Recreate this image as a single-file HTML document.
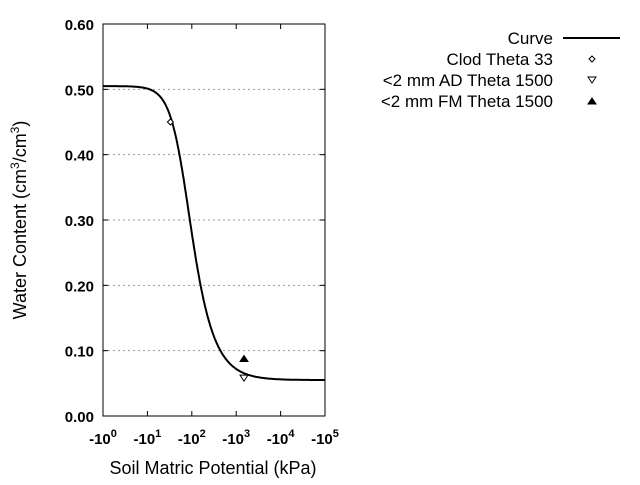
<!DOCTYPE html>
<html><head><meta charset="utf-8"><style>
body{margin:0;background:#fff}
svg{font-family:"Liberation Sans",sans-serif}
</style></head><body>
<svg width="640" height="480" viewBox="0 0 640 480">
<g id="grid"></g><g id="axes"></g><g id="marks"></g><g id="legend"></g>
<text x="213" y="474" font-size="18" text-anchor="middle">Soil Matric Potential (kPa)</text>
<text transform="translate(26,220) rotate(-90)" font-size="18" text-anchor="middle">Water Content (cm<tspan dy="-7" font-size="12">3</tspan><tspan dy="7">/cm</tspan><tspan dy="-7" font-size="12">3</tspan><tspan dy="7">)</tspan></text>
</svg>
<script>
const yTicks=[0,0.1,0.2,0.3,0.4,0.5,0.6];
const xDecades=[0,1,2,3,4,5];
const vgParams={thetaR:0.055,thetaS:0.505,alpha:0.01533,n:2.2};
const clodH=[33];const clodTheta=[0.45];
const adH=[1500];const adTheta=[0.058];
const fmH=[1500];const fmTheta=[0.088];
const legendLabels=["Curve","Clod Theta 33","<2 mm AD Theta 1500","<2 mm FM Theta 1500"];
const L=103,R=325,T=24,B=416;
const NS="http://www.w3.org/2000/svg";
const X=h=>L+(Math.log10(h)-0)/5*(R-L);
const Y=t=>B-t/0.6*(B-T);
function mk(p,tag,a,name,txt){const e=document.createElementNS(NS,tag);for(const k in a)e.setAttribute(k,a[k]);


if(txt!==undefined)e.textContent=txt;p.appendChild(e);return e;}
const grid=document.getElementById('grid'),axes=document.getElementById('axes'),marks=document.getElementById('marks'),leg=document.getElementById('legend');
yTicks.forEach(v=>{const y=Y(v);
if(v>0&&v<0.6)mk(grid,'line',{x1:L,x2:R,y1:y,y2:y,stroke:'#999','stroke-dasharray':'2,3','stroke-width':1},'y-gridline');
mk(axes,'line',{x1:L,x2:L+5,y1:y,y2:y,stroke:'#000'},'y-tick');
mk(axes,'line',{x1:R-5,x2:R,y1:y,y2:y,stroke:'#000'},'y-tick');
mk(axes,'text',{x:L-9,y:y+6,'font-size':15,'font-weight':'bold','text-anchor':'end'},'y-tick-label',v.toFixed(2));});
xDecades.forEach(d=>{const x=X(Math.pow(10,d));
mk(axes,'line',{x1:x,x2:x,y1:B,y2:B-5,stroke:'#000'},'x-tick');
mk(axes,'line',{x1:x,x2:x,y1:T,y2:T+5,stroke:'#000'},'x-tick');
const t=mk(axes,'text',{x:x,y:B+28,'font-size':15,'font-weight':'bold','text-anchor':'middle'},'x-tick-label','-10');
const s=document.createElementNS(NS,'tspan');s.setAttribute('dy','-7');s.setAttribute('font-size','11');s.textContent=d;t.appendChild(s);});
mk(axes,'rect',{x:L,y:T,width:R-L,height:B-T,fill:'none',stroke:'#000','stroke-width':1},'plot-frame');
const m=1-1/vgParams.n;let pts=[];
for(let i=0;i<=300;i++){const lh=i/300*5,h=Math.pow(10,lh);
const se=Math.pow(1+Math.pow(vgParams.alpha*h,vgParams.n),-m);
const th=vgParams.thetaR+(vgParams.thetaS-vgParams.thetaR)*se;pts.push(X(h).toFixed(1)+','+Y(th).toFixed(1));}
mk(marks,'polyline',{points:pts.join(' '),fill:'none',stroke:'#000','stroke-width':2},'retention-curve');
const diamond=(p,x,y,n)=>mk(p,'path',{d:`M${x} ${y-3}L${x+3} ${y}L${x} ${y+3}L${x-3} ${y}Z`,fill:'#fff',stroke:'#000','stroke-width':1},n);
const tdown=(p,x,y,n)=>mk(p,'path',{d:`M${x-4} ${y-3}L${x+4} ${y-3}L${x} ${y+3}Z`,fill:'#fff',stroke:'#000','stroke-width':1},n);
const tup=(p,x,y,n)=>mk(p,'path',{d:`M${x-4} ${y+3}L${x+4} ${y+3}L${x} ${y-3}Z`,fill:'#000',stroke:'#000','stroke-width':1},n);
clodH.forEach((h,i)=>diamond(marks,X(h),Y(clodTheta[i]),'clod-theta-33-point'));
adH.forEach((h,i)=>tdown(marks,X(h),Y(adTheta[i]),'ad-theta-1500-point'));
fmH.forEach((h,i)=>tup(marks,X(h),Y(fmTheta[i]),'fm-theta-1500-point'));
const ly=[38,59,80,101];
legendLabels.forEach((lab,i)=>{mk(leg,'text',{x:553,y:ly[i]+6,'font-size':17,'text-anchor':'end'},'legend-label',lab);});
mk(leg,'line',{x1:563,x2:620,y1:ly[0],y2:ly[0],stroke:'#000','stroke-width':2},'legend-curve-line');
diamond(leg,592,ly[1],'legend-clod-marker');tdown(leg,592,ly[2],'legend-ad-marker');tup(leg,592,ly[3],'legend-fm-marker');
</script>
</body></html>
